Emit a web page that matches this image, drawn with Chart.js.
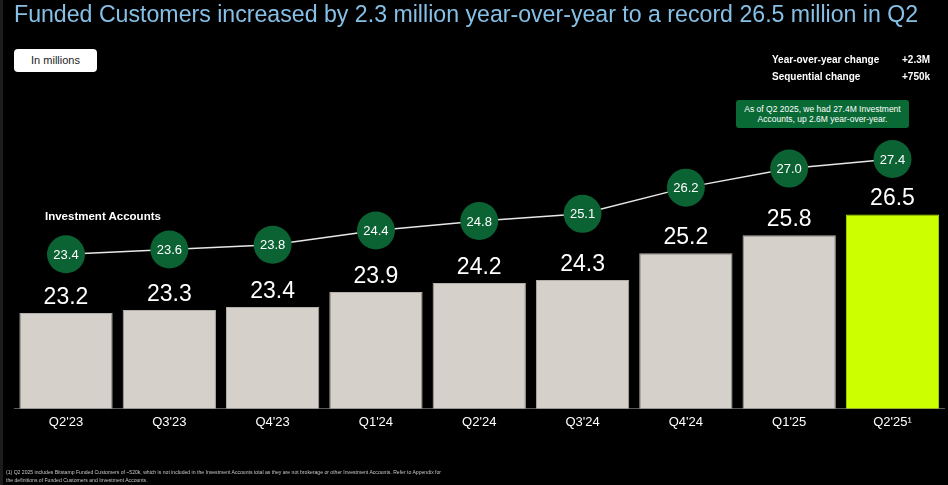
<!DOCTYPE html>
<html>
<head>
<meta charset="utf-8">
<script src="https://cdn.jsdelivr.net/npm/chart.js@4.4.1/dist/chart.umd.min.js"></script>
<style>
  html, body { margin: 0; padding: 0; background: #000; }
  #wrap { position: relative; width: 948px; height: 485px; overflow: hidden; background: #000;
          font-family: "Liberation Sans", Arial, Helvetica, sans-serif; }
  #chart { position: absolute; left: 0; top: 0; }
  .edge { position: absolute; left: 0; top: 0; width: 3px; height: 485px; background: #1c1c1c; }
  .title { position: absolute; left: 14px; top: 1px; font-size: 23.15px; color: #86c0e6; white-space: nowrap; }
  .unit { position: absolute; left: 14px; top: 49px; width: 83px; height: 23px; border-radius: 4px;
          background: #fff; color: #222; font-size: 11px; line-height: 23px; text-align: center; }
  .stats { position: absolute; left: 772px; top: 54px; font-size: 10px; font-weight: bold; color: #fff; }
  .stats div { height: 17px; white-space: nowrap; }
  .stats span { display: inline-block; width: 130px; }
  .callout { position: absolute; left: 736px; top: 100px; width: 173px; height: 28px; border-radius: 3px;
             background: #0a6a35; color: #fff; font-size: 8.5px; line-height: 10px; text-align: center;
             padding-top: 4px; box-sizing: border-box; }
  .ia { position: absolute; left: 45px; top: 210px; font-size: 11.5px; font-weight: bold; color: #fff; }
  .foot { position: absolute; left: 6px; top: 468px; font-size: 5.1px; line-height: 8px; color: #c8c8c8; white-space: nowrap; }
</style>
</head>
<body>
<div id="wrap">
  <canvas id="chart" width="948" height="485"></canvas>
  <div class="edge"></div>
  <div class="title">Funded Customers increased by 2.3 million year-over-year to a record 26.5 million in Q2</div>
  <div class="unit">In millions</div>
  <div class="stats">
    <div><span>Year-over-year change</span>+2.3M</div>
    <div><span>Sequential change</span>+750k</div>
  </div>
  <div class="callout">As of Q2 2025, we had 27.4M Investment<br>Accounts, up 2.6M year-over-year.</div>
  <div class="ia">Investment Accounts</div>
  <div class="foot">(1) Q2 2025 includes Bitstamp Funded Customers of ~520k, which is not included in the Investment Accounts total as they are not brokerage or other Investment Accounts. Refer to Appendix for<br>the definitions of Funded Customers and Investment Accounts.</div>
</div>
<script>
const quarters = ["Q2'23", "Q3'23", "Q4'23", "Q1'24", "Q2'24", "Q3'24", "Q4'24", "Q1'25", "Q2'25\u00b9"];
const fundedCustomers = [23.2, 23.3, 23.4, 23.9, 24.2, 24.3, 25.2, 25.8, 26.5];
const investmentAccounts = [23.4, 23.6, 23.8, 24.4, 24.8, 25.1, 26.2, 27.0, 27.4];

const FONT = '"Liberation Sans", Arial, Helvetica, sans-serif';

const barColors = fundedCustomers.map((v, i) => i === fundedCustomers.length - 1 ? '#ccff00' : '#d5d0ca');
const barBorders = fundedCustomers.map((v, i) => i === fundedCustomers.length - 1 ? '#b5e000' : '#b3aea8');

// draws the value labels above bars and inside the circles
const valueLabels = {
    id: 'valueLabels',
    afterDatasetsDraw(chart) {
        const ctx = chart.ctx;
        ctx.save();
        ctx.fillStyle = '#ffffff';
        ctx.textAlign = 'center';

        const bars = chart.getDatasetMeta(1).data;
        ctx.font = '23px ' + FONT;
        ctx.textBaseline = 'alphabetic';
        bars.forEach((bar, i) => {
            ctx.fillText(fundedCustomers[i].toFixed(1), bar.x, bar.y - 9);
        });

        const points = chart.getDatasetMeta(0).data;
        ctx.font = '13px ' + FONT;
        ctx.textBaseline = 'middle';
        points.forEach((pt, i) => {
            ctx.fillText(investmentAccounts[i].toFixed(1), pt.x, pt.y + 1);
        });
        ctx.restore();
    }
};

new Chart(document.getElementById('chart'), {
    data: {
        labels: quarters,
        datasets: [
            {
                type: 'line',
                label: 'Investment Accounts',
                data: investmentAccounts,
                yAxisID: 'y2',
                order: 0,
                borderColor: '#e8e8e8',
                borderWidth: 1.5,
                tension: 0,
                pointRadius: 19,
                pointHoverRadius: 19,
                pointBackgroundColor: '#0b6233',
                pointBorderWidth: 0,
                clip: false,
            },
            {
                type: 'bar',
                label: 'Funded Customers',
                data: fundedCustomers,
                yAxisID: 'y',
                order: 1,
                backgroundColor: barColors,
                borderColor: barBorders,
                borderWidth: 1,
                barPercentage: 0.903,
                categoryPercentage: 1,
            }
        ]
    },
    options: {
        responsive: false,
        animation: false,
        layout: {
            autoPadding: false,
            padding: {left: 14.35, right: 3.85, top: 110, bottom: 49}
        },
        plugins: {
            legend: {display: false},
            tooltip: {enabled: false},
        },
        scales: {
            x: {
                grid: {display: false, drawTicks: false},
                border: {display: true, color: '#5a5a5a', width: 1},
                ticks: {
                    color: '#ffffff',
                    padding: 6,
                    font: {family: FONT, size: 13},
                    maxRotation: 0,
                },
            },
            y: {
                display: false,
                min: 20,
                max: 30,
            },
            y2: {
                display: false,
                min: 16.93,
                max: 29.46,
            }
        }
    },
    plugins: [valueLabels]
});
</script>
</body>
</html>
